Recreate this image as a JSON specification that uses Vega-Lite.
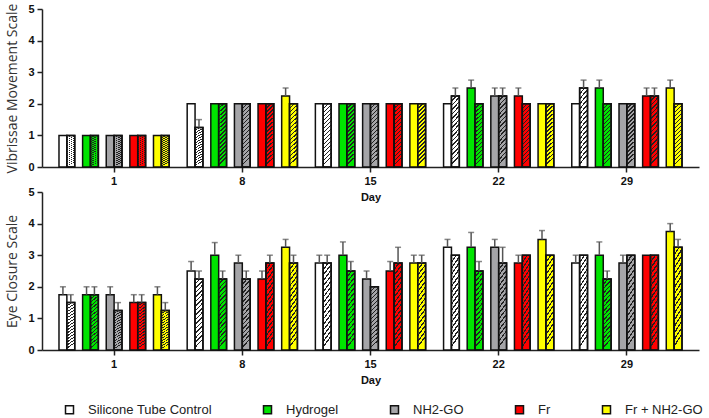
{
  "$schema": "https://vega.github.io/schema/vega-lite/v6.json",
  "padding": {"left": 5, "top": 3, "right": 5, "bottom": 5},
  "spacing": 25,
  "bounds": "flush",
  "config": {
    "view": {"stroke": null},
    "font": "Liberation Sans",
    "axis": {"domainColor": "#222", "domainWidth": 1.5, "tickColor": "#222", "tickWidth": 1.5, "tickSize": 5, "labelFontWeight": "bold", "labelFontSize": 11, "labelColor": "#111", "grid": false},
    "axisX": {"titleFontWeight": "bold", "titleFontSize": 11, "titleColor": "#111", "titlePadding": 5, "labelPadding": 3, "labelAngle": 0},
    "axisY": {"titleFont": "Open Sans", "titleFontWeight": "normal", "titleFontSize": 14, "titleColor": "#333", "titlePadding": 8, "labelPadding": 3, "labelOverlap": false},
    "legend": {"labelFontSize": 13, "labelColor": "#222", "symbolType": "square", "symbolSize": 64, "symbolStrokeWidth": 1.5, "symbolStrokeColor": "#111", "labelOffset": 12, "columnPadding": 48}
  },
  "data": {"values": [
    {"p":"V","d":1,"g":"Silicone Tube Control","h":0,"v":1},
    {"p":"V","d":1,"g":"Silicone Tube Control","h":1,"v":1},
    {"p":"V","d":1,"g":"Hydrogel","h":0,"v":1},
    {"p":"V","d":1,"g":"Hydrogel","h":1,"v":1},
    {"p":"V","d":1,"g":"NH2-GO","h":0,"v":1},
    {"p":"V","d":1,"g":"NH2-GO","h":1,"v":1},
    {"p":"V","d":1,"g":"Fr","h":0,"v":1},
    {"p":"V","d":1,"g":"Fr","h":1,"v":1},
    {"p":"V","d":1,"g":"Fr + NH2-GO","h":0,"v":1},
    {"p":"V","d":1,"g":"Fr + NH2-GO","h":1,"v":1},
    {"p":"V","d":8,"g":"Silicone Tube Control","h":0,"v":2},
    {"p":"V","d":8,"g":"Silicone Tube Control","h":1,"v":1.25,"hi":1.5},
    {"p":"V","d":8,"g":"Hydrogel","h":0,"v":2},
    {"p":"V","d":8,"g":"Hydrogel","h":1,"v":2},
    {"p":"V","d":8,"g":"NH2-GO","h":0,"v":2},
    {"p":"V","d":8,"g":"NH2-GO","h":1,"v":2},
    {"p":"V","d":8,"g":"Fr","h":0,"v":2},
    {"p":"V","d":8,"g":"Fr","h":1,"v":2},
    {"p":"V","d":8,"g":"Fr + NH2-GO","h":0,"v":2.25,"hi":2.5},
    {"p":"V","d":8,"g":"Fr + NH2-GO","h":1,"v":2},
    {"p":"V","d":15,"g":"Silicone Tube Control","h":0,"v":2},
    {"p":"V","d":15,"g":"Silicone Tube Control","h":1,"v":2},
    {"p":"V","d":15,"g":"Hydrogel","h":0,"v":2},
    {"p":"V","d":15,"g":"Hydrogel","h":1,"v":2},
    {"p":"V","d":15,"g":"NH2-GO","h":0,"v":2},
    {"p":"V","d":15,"g":"NH2-GO","h":1,"v":2},
    {"p":"V","d":15,"g":"Fr","h":0,"v":2},
    {"p":"V","d":15,"g":"Fr","h":1,"v":2},
    {"p":"V","d":15,"g":"Fr + NH2-GO","h":0,"v":2},
    {"p":"V","d":15,"g":"Fr + NH2-GO","h":1,"v":2},
    {"p":"V","d":22,"g":"Silicone Tube Control","h":0,"v":2},
    {"p":"V","d":22,"g":"Silicone Tube Control","h":1,"v":2.25,"hi":2.5},
    {"p":"V","d":22,"g":"Hydrogel","h":0,"v":2.5,"hi":2.75},
    {"p":"V","d":22,"g":"Hydrogel","h":1,"v":2},
    {"p":"V","d":22,"g":"NH2-GO","h":0,"v":2.25,"hi":2.5},
    {"p":"V","d":22,"g":"NH2-GO","h":1,"v":2.25,"hi":2.5},
    {"p":"V","d":22,"g":"Fr","h":0,"v":2.25,"hi":2.5},
    {"p":"V","d":22,"g":"Fr","h":1,"v":2},
    {"p":"V","d":22,"g":"Fr + NH2-GO","h":0,"v":2},
    {"p":"V","d":22,"g":"Fr + NH2-GO","h":1,"v":2},
    {"p":"V","d":29,"g":"Silicone Tube Control","h":0,"v":2},
    {"p":"V","d":29,"g":"Silicone Tube Control","h":1,"v":2.5,"hi":2.75},
    {"p":"V","d":29,"g":"Hydrogel","h":0,"v":2.5,"hi":2.75},
    {"p":"V","d":29,"g":"Hydrogel","h":1,"v":2},
    {"p":"V","d":29,"g":"NH2-GO","h":0,"v":2},
    {"p":"V","d":29,"g":"NH2-GO","h":1,"v":2},
    {"p":"V","d":29,"g":"Fr","h":0,"v":2.25,"hi":2.5},
    {"p":"V","d":29,"g":"Fr","h":1,"v":2.25,"hi":2.5},
    {"p":"V","d":29,"g":"Fr + NH2-GO","h":0,"v":2.5,"hi":2.75},
    {"p":"V","d":29,"g":"Fr + NH2-GO","h":1,"v":2},
    {"p":"E","d":1,"g":"Silicone Tube Control","h":0,"v":1.75,"hi":2},
    {"p":"E","d":1,"g":"Silicone Tube Control","h":1,"v":1.5,"hi":1.75},
    {"p":"E","d":1,"g":"Hydrogel","h":0,"v":1.75,"hi":2},
    {"p":"E","d":1,"g":"Hydrogel","h":1,"v":1.75,"hi":2},
    {"p":"E","d":1,"g":"NH2-GO","h":0,"v":1.75,"hi":2},
    {"p":"E","d":1,"g":"NH2-GO","h":1,"v":1.25,"hi":1.5},
    {"p":"E","d":1,"g":"Fr","h":0,"v":1.5,"hi":1.75},
    {"p":"E","d":1,"g":"Fr","h":1,"v":1.5,"hi":1.75},
    {"p":"E","d":1,"g":"Fr + NH2-GO","h":0,"v":1.75,"hi":2},
    {"p":"E","d":1,"g":"Fr + NH2-GO","h":1,"v":1.25,"hi":1.5},
    {"p":"E","d":8,"g":"Silicone Tube Control","h":0,"v":2.5,"hi":2.8},
    {"p":"E","d":8,"g":"Silicone Tube Control","h":1,"v":2.25,"hi":2.5},
    {"p":"E","d":8,"g":"Hydrogel","h":0,"v":3,"hi":3.4},
    {"p":"E","d":8,"g":"Hydrogel","h":1,"v":2.25,"hi":2.5},
    {"p":"E","d":8,"g":"NH2-GO","h":0,"v":2.75,"hi":3},
    {"p":"E","d":8,"g":"NH2-GO","h":1,"v":2.25,"hi":2.5},
    {"p":"E","d":8,"g":"Fr","h":0,"v":2.25,"hi":2.5},
    {"p":"E","d":8,"g":"Fr","h":1,"v":2.75,"hi":3},
    {"p":"E","d":8,"g":"Fr + NH2-GO","h":0,"v":3.25,"hi":3.5},
    {"p":"E","d":8,"g":"Fr + NH2-GO","h":1,"v":2.75,"hi":3},
    {"p":"E","d":15,"g":"Silicone Tube Control","h":0,"v":2.75,"hi":3},
    {"p":"E","d":15,"g":"Silicone Tube Control","h":1,"v":2.75,"hi":3},
    {"p":"E","d":15,"g":"Hydrogel","h":0,"v":3,"hi":3.42},
    {"p":"E","d":15,"g":"Hydrogel","h":1,"v":2.5,"hi":2.8},
    {"p":"E","d":15,"g":"NH2-GO","h":0,"v":2.25,"hi":2.5},
    {"p":"E","d":15,"g":"NH2-GO","h":1,"v":2},
    {"p":"E","d":15,"g":"Fr","h":0,"v":2.5,"hi":2.8},
    {"p":"E","d":15,"g":"Fr","h":1,"v":2.75,"hi":3.25},
    {"p":"E","d":15,"g":"Fr + NH2-GO","h":0,"v":2.75,"hi":3},
    {"p":"E","d":15,"g":"Fr + NH2-GO","h":1,"v":2.75,"hi":3},
    {"p":"E","d":22,"g":"Silicone Tube Control","h":0,"v":3.25,"hi":3.5},
    {"p":"E","d":22,"g":"Silicone Tube Control","h":1,"v":3},
    {"p":"E","d":22,"g":"Hydrogel","h":0,"v":3.25,"hi":3.72},
    {"p":"E","d":22,"g":"Hydrogel","h":1,"v":2.5,"hi":2.8},
    {"p":"E","d":22,"g":"NH2-GO","h":0,"v":3.25,"hi":3.5},
    {"p":"E","d":22,"g":"NH2-GO","h":1,"v":2.75,"hi":3.25},
    {"p":"E","d":22,"g":"Fr","h":0,"v":2.75,"hi":3},
    {"p":"E","d":22,"g":"Fr","h":1,"v":3},
    {"p":"E","d":22,"g":"Fr + NH2-GO","h":0,"v":3.5,"hi":3.78},
    {"p":"E","d":22,"g":"Fr + NH2-GO","h":1,"v":3},
    {"p":"E","d":29,"g":"Silicone Tube Control","h":0,"v":2.75,"hi":3},
    {"p":"E","d":29,"g":"Silicone Tube Control","h":1,"v":3},
    {"p":"E","d":29,"g":"Hydrogel","h":0,"v":3,"hi":3.42},
    {"p":"E","d":29,"g":"Hydrogel","h":1,"v":2.25,"hi":2.5},
    {"p":"E","d":29,"g":"NH2-GO","h":0,"v":2.75,"hi":3},
    {"p":"E","d":29,"g":"NH2-GO","h":1,"v":3},
    {"p":"E","d":29,"g":"Fr","h":0,"v":3},
    {"p":"E","d":29,"g":"Fr","h":1,"v":3},
    {"p":"E","d":29,"g":"Fr + NH2-GO","h":0,"v":3.75,"hi":4},
    {"p":"E","d":29,"g":"Fr + NH2-GO","h":1,"v":3.25,"hi":3.5}
  ]},
  "transform": [{"calculate": "datum.g + datum.h", "as": "k"}],
  "vconcat": [
    {
      "width": 657, "height": 158,
      "transform": [{"filter": "datum.p == 'V'"}],
      "encoding": {
        "x": {"field": "d", "type": "ordinal", "title": "Day", "scale": {"paddingInner": 0.14, "paddingOuter": 0.1325}},
        "xOffset": {"field": "k", "type": "nominal", "scale": {"domain": ["Silicone Tube Control0","Silicone Tube Control1","s1","Hydrogel0","Hydrogel1","s2","NH2-GO0","NH2-GO1","s3","Fr0","Fr1","s4","Fr + NH2-GO0","Fr + NH2-GO1"], "paddingInner": 0, "paddingOuter": 0}}
      },
      "layer": [
        {
          "mark": {"type": "bar", "stroke": "#111", "strokeWidth": 1.5},
          "encoding": {
            "y": {"field": "v", "type": "quantitative", "title": "Vibrissae Movement Scale", "scale": {"domain": [0, 5], "nice": false}, "axis": {"values": [0, 1, 2, 3, 4, 5]}},
            "fill": {"field": "g", "type": "nominal", "scale": {"domain": ["Silicone Tube Control", "Hydrogel", "NH2-GO", "Fr", "Fr + NH2-GO"], "range": ["#ffffff", "#00e400", "#a5a5a8", "#ff0000", "#ffff00"]}, "legend": {"orient": "none", "direction": "horizontal", "title": null, "legendX": 21, "legendY": 394}}
          }
        },
        {
          "transform": [{"filter": "datum.h == 1"}],
          "mark": {"type": "bar", "stroke": "#111", "strokeWidth": 1.5, "fill": {"gradient": "linear", "x1": 0, "y1": 0, "x2": 0.12, "y2": 1, "stops": [
            {"offset":0,"color":"#222222"},{"offset":0.0219,"color":"#222222"},{"offset":0.0219,"color":"rgba(255,255,255,0)"},{"offset":0.0625,"color":"rgba(255,255,255,0)"},
            {"offset":0.0625,"color":"#222222"},{"offset":0.0844,"color":"#222222"},{"offset":0.0844,"color":"rgba(255,255,255,0)"},{"offset":0.125,"color":"rgba(255,255,255,0)"},
            {"offset":0.125,"color":"#222222"},{"offset":0.1469,"color":"#222222"},{"offset":0.1469,"color":"rgba(255,255,255,0)"},{"offset":0.1875,"color":"rgba(255,255,255,0)"},
            {"offset":0.1875,"color":"#222222"},{"offset":0.2094,"color":"#222222"},{"offset":0.2094,"color":"rgba(255,255,255,0)"},{"offset":0.25,"color":"rgba(255,255,255,0)"},
            {"offset":0.25,"color":"#222222"},{"offset":0.2719,"color":"#222222"},{"offset":0.2719,"color":"rgba(255,255,255,0)"},{"offset":0.3125,"color":"rgba(255,255,255,0)"},
            {"offset":0.3125,"color":"#222222"},{"offset":0.3344,"color":"#222222"},{"offset":0.3344,"color":"rgba(255,255,255,0)"},{"offset":0.375,"color":"rgba(255,255,255,0)"},
            {"offset":0.375,"color":"#222222"},{"offset":0.3969,"color":"#222222"},{"offset":0.3969,"color":"rgba(255,255,255,0)"},{"offset":0.4375,"color":"rgba(255,255,255,0)"},
            {"offset":0.4375,"color":"#222222"},{"offset":0.4594,"color":"#222222"},{"offset":0.4594,"color":"rgba(255,255,255,0)"},{"offset":0.5,"color":"rgba(255,255,255,0)"},
            {"offset":0.5,"color":"#222222"},{"offset":0.5219,"color":"#222222"},{"offset":0.5219,"color":"rgba(255,255,255,0)"},{"offset":0.5625,"color":"rgba(255,255,255,0)"},
            {"offset":0.5625,"color":"#222222"},{"offset":0.5844,"color":"#222222"},{"offset":0.5844,"color":"rgba(255,255,255,0)"},{"offset":0.625,"color":"rgba(255,255,255,0)"},
            {"offset":0.625,"color":"#222222"},{"offset":0.6469,"color":"#222222"},{"offset":0.6469,"color":"rgba(255,255,255,0)"},{"offset":0.6875,"color":"rgba(255,255,255,0)"},
            {"offset":0.6875,"color":"#222222"},{"offset":0.7094,"color":"#222222"},{"offset":0.7094,"color":"rgba(255,255,255,0)"},{"offset":0.75,"color":"rgba(255,255,255,0)"},
            {"offset":0.75,"color":"#222222"},{"offset":0.7719,"color":"#222222"},{"offset":0.7719,"color":"rgba(255,255,255,0)"},{"offset":0.8125,"color":"rgba(255,255,255,0)"},
            {"offset":0.8125,"color":"#222222"},{"offset":0.8344,"color":"#222222"},{"offset":0.8344,"color":"rgba(255,255,255,0)"},{"offset":0.875,"color":"rgba(255,255,255,0)"},
            {"offset":0.875,"color":"#222222"},{"offset":0.8969,"color":"#222222"},{"offset":0.8969,"color":"rgba(255,255,255,0)"},{"offset":0.9375,"color":"rgba(255,255,255,0)"},
            {"offset":0.9375,"color":"#222222"},{"offset":0.9594,"color":"#222222"},{"offset":0.9594,"color":"rgba(255,255,255,0)"},{"offset":1,"color":"rgba(255,255,255,0)"}
          ]}},
          "encoding": {"y": {"field": "v", "type": "quantitative", "title": "Vibrissae Movement Scale", "axis": {"values": [0, 1, 2, 3, 4, 5]}}}
        },
        {
          "transform": [{"filter": "isValid(datum.hi)"}],
          "mark": {"type": "rule", "color": "#555", "strokeWidth": 1.5},
          "encoding": {"y": {"field": "v", "type": "quantitative", "title": "Vibrissae Movement Scale", "axis": {"values": [0, 1, 2, 3, 4, 5]}}, "y2": {"field": "hi"}}
        },
        {
          "transform": [{"filter": "isValid(datum.hi)"}],
          "mark": {"type": "tick", "color": "#555", "thickness": 1.5, "size": 6},
          "encoding": {"y": {"field": "hi", "type": "quantitative", "title": "Vibrissae Movement Scale", "axis": {"values": [0, 1, 2, 3, 4, 5]}}}
        }
      ]
    },
    {
      "width": 657, "height": 158,
      "transform": [{"filter": "datum.p == 'E'"}],
      "encoding": {
        "x": {"field": "d", "type": "ordinal", "title": "Day", "scale": {"paddingInner": 0.14, "paddingOuter": 0.1325}},
        "xOffset": {"field": "k", "type": "nominal", "scale": {"domain": ["Silicone Tube Control0","Silicone Tube Control1","s1","Hydrogel0","Hydrogel1","s2","NH2-GO0","NH2-GO1","s3","Fr0","Fr1","s4","Fr + NH2-GO0","Fr + NH2-GO1"], "paddingInner": 0, "paddingOuter": 0}}
      },
      "layer": [
        {
          "mark": {"type": "bar", "stroke": "#111", "strokeWidth": 1.5},
          "encoding": {
            "y": {"field": "v", "type": "quantitative", "title": "Eye Closure Scale", "scale": {"domain": [0, 5], "nice": false}, "axis": {"values": [0, 1, 2, 3, 4, 5]}},
            "fill": {"field": "g", "type": "nominal", "scale": {"domain": ["Silicone Tube Control", "Hydrogel", "NH2-GO", "Fr", "Fr + NH2-GO"], "range": ["#ffffff", "#00e400", "#a5a5a8", "#ff0000", "#ffff00"]}, "legend": {"orient": "none", "direction": "horizontal", "title": null, "legendX": 21, "legendY": 394}}
          }
        },
        {
          "transform": [{"filter": "datum.h == 1"}],
          "mark": {"type": "bar", "stroke": "#111", "strokeWidth": 1.5, "fill": {"gradient": "linear", "x1": 0, "y1": 0, "x2": 0.12, "y2": 1, "stops": [
            {"offset":0,"color":"#222222"},{"offset":0.0219,"color":"#222222"},{"offset":0.0219,"color":"rgba(255,255,255,0)"},{"offset":0.0625,"color":"rgba(255,255,255,0)"},
            {"offset":0.0625,"color":"#222222"},{"offset":0.0844,"color":"#222222"},{"offset":0.0844,"color":"rgba(255,255,255,0)"},{"offset":0.125,"color":"rgba(255,255,255,0)"},
            {"offset":0.125,"color":"#222222"},{"offset":0.1469,"color":"#222222"},{"offset":0.1469,"color":"rgba(255,255,255,0)"},{"offset":0.1875,"color":"rgba(255,255,255,0)"},
            {"offset":0.1875,"color":"#222222"},{"offset":0.2094,"color":"#222222"},{"offset":0.2094,"color":"rgba(255,255,255,0)"},{"offset":0.25,"color":"rgba(255,255,255,0)"},
            {"offset":0.25,"color":"#222222"},{"offset":0.2719,"color":"#222222"},{"offset":0.2719,"color":"rgba(255,255,255,0)"},{"offset":0.3125,"color":"rgba(255,255,255,0)"},
            {"offset":0.3125,"color":"#222222"},{"offset":0.3344,"color":"#222222"},{"offset":0.3344,"color":"rgba(255,255,255,0)"},{"offset":0.375,"color":"rgba(255,255,255,0)"},
            {"offset":0.375,"color":"#222222"},{"offset":0.3969,"color":"#222222"},{"offset":0.3969,"color":"rgba(255,255,255,0)"},{"offset":0.4375,"color":"rgba(255,255,255,0)"},
            {"offset":0.4375,"color":"#222222"},{"offset":0.4594,"color":"#222222"},{"offset":0.4594,"color":"rgba(255,255,255,0)"},{"offset":0.5,"color":"rgba(255,255,255,0)"},
            {"offset":0.5,"color":"#222222"},{"offset":0.5219,"color":"#222222"},{"offset":0.5219,"color":"rgba(255,255,255,0)"},{"offset":0.5625,"color":"rgba(255,255,255,0)"},
            {"offset":0.5625,"color":"#222222"},{"offset":0.5844,"color":"#222222"},{"offset":0.5844,"color":"rgba(255,255,255,0)"},{"offset":0.625,"color":"rgba(255,255,255,0)"},
            {"offset":0.625,"color":"#222222"},{"offset":0.6469,"color":"#222222"},{"offset":0.6469,"color":"rgba(255,255,255,0)"},{"offset":0.6875,"color":"rgba(255,255,255,0)"},
            {"offset":0.6875,"color":"#222222"},{"offset":0.7094,"color":"#222222"},{"offset":0.7094,"color":"rgba(255,255,255,0)"},{"offset":0.75,"color":"rgba(255,255,255,0)"},
            {"offset":0.75,"color":"#222222"},{"offset":0.7719,"color":"#222222"},{"offset":0.7719,"color":"rgba(255,255,255,0)"},{"offset":0.8125,"color":"rgba(255,255,255,0)"},
            {"offset":0.8125,"color":"#222222"},{"offset":0.8344,"color":"#222222"},{"offset":0.8344,"color":"rgba(255,255,255,0)"},{"offset":0.875,"color":"rgba(255,255,255,0)"},
            {"offset":0.875,"color":"#222222"},{"offset":0.8969,"color":"#222222"},{"offset":0.8969,"color":"rgba(255,255,255,0)"},{"offset":0.9375,"color":"rgba(255,255,255,0)"},
            {"offset":0.9375,"color":"#222222"},{"offset":0.9594,"color":"#222222"},{"offset":0.9594,"color":"rgba(255,255,255,0)"},{"offset":1,"color":"rgba(255,255,255,0)"}
          ]}},
          "encoding": {"y": {"field": "v", "type": "quantitative", "title": "Eye Closure Scale", "axis": {"values": [0, 1, 2, 3, 4, 5]}}}
        },
        {
          "transform": [{"filter": "isValid(datum.hi)"}],
          "mark": {"type": "rule", "color": "#555", "strokeWidth": 1.5},
          "encoding": {"y": {"field": "v", "type": "quantitative", "title": "Eye Closure Scale", "axis": {"values": [0, 1, 2, 3, 4, 5]}}, "y2": {"field": "hi"}}
        },
        {
          "transform": [{"filter": "isValid(datum.hi)"}],
          "mark": {"type": "tick", "color": "#555", "thickness": 1.5, "size": 6},
          "encoding": {"y": {"field": "hi", "type": "quantitative", "title": "Eye Closure Scale", "axis": {"values": [0, 1, 2, 3, 4, 5]}}}
        }
      ]
    }
  ]
}
